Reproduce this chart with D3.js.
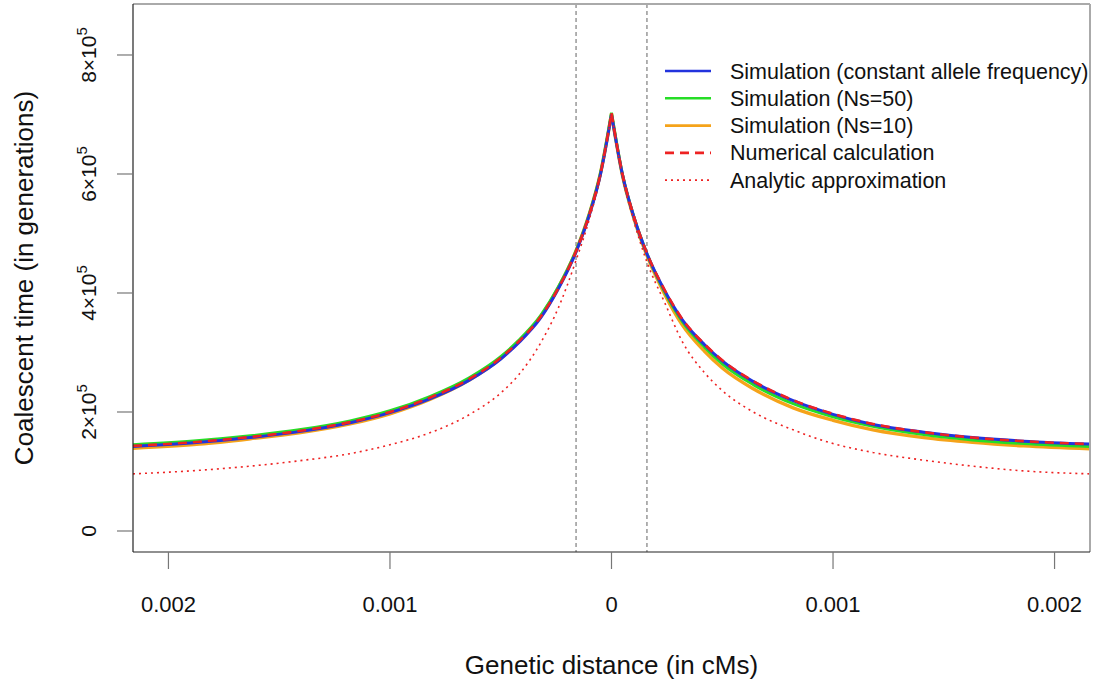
<!DOCTYPE html>
<html lang="en">
<head>
    <meta charset="UTF-8">
    <title>Coalescent time</title>
    <script src="https://cdn.jsdelivr.net/npm/d3@7"></script>
    <style>
        body { margin: 0; background: #fff; }
        text { font-family: "Liberation Sans", Arial, sans-serif; fill: #111; }
    </style>
</head>
<body>
<div id="chart"></div>
<script>
    const width = 1099;
    const height = 687;

    // genetic distance (cM), negative = left of the selected site
    const distLeft = [-0.00216, -0.00186, -0.00163, -0.00141, -0.00118, -0.001, -0.00082, -0.00064,
        -0.0005, -0.00042, -0.00032, -0.00024, -0.00016, -0.0001, -0.00005, 0];
    const distRight = [0, 0.00005, 0.0001, 0.00016, 0.00024, 0.00032, 0.00042, 0.0005,
        0.00064, 0.00082, 0.001, 0.00118, 0.00141, 0.00163, 0.00186, 0.00216];

    // coalescent times, in thousands of generations
    const simConstLeft = [142, 149, 157, 167, 182, 199, 222, 254, 289, 316, 358, 407, 469, 531, 599, 700];
    const simConstRight = [700, 598, 529, 466, 404, 355, 313, 286, 251, 219, 196, 179, 166, 157, 151, 146];
    const simNs50Left = [145, 152, 160, 170, 185, 202, 226, 258, 293, 320, 362, 410, 471, 533, 601, 703];
    const simNs50Right = [703, 598, 529, 466, 402, 352, 309, 281, 246, 214, 192, 176, 162, 153, 147, 142];
    const simNs10Left = [139, 146, 155, 165, 180, 197, 221, 254, 290, 318, 360, 409, 471, 533, 601, 701];
    const simNs10Right = [701, 597, 527, 463, 398, 346, 302, 274, 239, 207, 186, 170, 157, 149, 143, 138];
    const numericLeft = [143, 150, 158, 168, 183, 200, 224, 256, 291, 318, 360, 408, 470, 532, 600, 702];
    const numericRight = [702, 599, 530, 467, 405, 356, 314, 287, 252, 220, 197, 180, 166, 157, 151, 146];
    const analyticLeft = [96, 102, 109, 118, 130, 145, 165, 196, 232, 262, 316, 375, 455, 524, 596, 702];
    const analyticRight = [702, 594, 522, 452, 384, 318, 266, 236, 200, 170, 147, 132, 119, 109, 101, 96];

    const xTicks = [-0.002, -0.001, 0, 0.001, 0.002];
    const xTickLabels = ["0.002", "0.001", "0", "0.001", "0.002"];
    const yTicks = [0, 200000, 400000, 600000, 800000];
    const yTickMantissa = ["0", "2", "4", "6", "8"];
    const cutoffs = [-0.00016, 0.00016];

    const legendLabels = ["Simulation (constant allele frequency)", "Simulation (Ns=50)",
        "Simulation (Ns=10)", "Numerical calculation", "Analytic approximation"];

    const margin = {top: 4, right: 9, bottom: 135, left: 133};

    const svg = d3.select("#chart")
        .append("svg")
        .attr("width", width)
        .attr("height", height);

    const x = d3.scaleLinear()
        .domain([-0.00216, 0.00216])
        .range([margin.left, width - margin.right]);

    const y = d3.scaleLinear()
        .domain([-35300, 885700])
        .range([height - margin.bottom, margin.top]);

    const series = [
        {left: simNs10Left, right: simNs10Right, color: "#f5a31a", width: 3.4, dash: null},
        {left: simNs50Left, right: simNs50Right, color: "#26dd26", width: 3, dash: null},
        {left: simConstLeft, right: simConstRight, color: "#2233dd", width: 3, dash: null},
        {left: numericLeft, right: numericRight, color: "#ee2222", width: 2.6, dash: "9,6"},
        {left: analyticLeft, right: analyticRight, color: "#ee2222", width: 1.6, dash: "2,4"}
    ];

    const line = d3.line()
        .x(function (d) { return x(d[0]); })
        .y(function (d) { return y(d[1] * 1000); })
        .curve(d3.curveMonotoneX);

    const plot = svg.append("g");

    // cutoff lines
    plot.selectAll("line.cut").data(cutoffs).enter()
        .append("line")
        .attr("class", "cut")
        .attr("x1", function (d) { return x(d); })
        .attr("x2", function (d) { return x(d); })
        .attr("y1", margin.top)
        .attr("y2", height - margin.bottom)
        .attr("stroke", "#888")
        .attr("stroke-width", 1.3)
        .attr("stroke-dasharray", "4,3");

    series.forEach(function (s) {
        [[distLeft, s.left], [distRight, s.right]].forEach(function (half) {
            const pts = half[0].map(function (d, i) { return [d, half[1][i]]; });
            plot.append("path")
                .datum(pts)
                .attr("fill", "none")
                .attr("stroke", s.color)
                .attr("stroke-width", s.width)
                .attr("stroke-dasharray", s.dash)
                .attr("d", line);
        });
    });

    // box
    const x0 = margin.left, x1 = width - margin.right;
    const y0 = margin.top, y1 = height - margin.bottom;
    svg.append("line").attr("x1", x0).attr("x2", x1).attr("y1", y0).attr("y2", y0)
        .attr("stroke", "#aaa").attr("stroke-width", 2);
    svg.append("line").attr("x1", x1).attr("x2", x1).attr("y1", y0).attr("y2", y1)
        .attr("stroke", "#aaa").attr("stroke-width", 2);
    svg.append("line").attr("x1", x0).attr("x2", x1).attr("y1", y1).attr("y2", y1)
        .attr("stroke", "#222").attr("stroke-width", 1.2);
    svg.append("line").attr("x1", x0).attr("x2", x0).attr("y1", y0).attr("y2", y1)
        .attr("stroke", "#222").attr("stroke-width", 1.2);

    // x axis
    const xAxis = svg.append("g");
    xAxis.selectAll("line").data(xTicks).enter()
        .append("line")
        .attr("x1", function (d) { return x(d); })
        .attr("x2", function (d) { return x(d); })
        .attr("y1", y1)
        .attr("y2", y1 + 17)
        .attr("stroke", "#777")
        .attr("stroke-width", 1.2);
    xAxis.selectAll("text").data(xTicks).enter()
        .append("text")
        .attr("x", function (d) { return x(d); })
        .attr("y", 612)
        .attr("text-anchor", "middle")
        .attr("font-size", 22)
        .text(function (d, i) { return xTickLabels[i]; });

    // y axis
    const yAxis = svg.append("g");
    yAxis.selectAll("line").data(yTicks).enter()
        .append("line")
        .attr("x1", x0 - 16)
        .attr("x2", x0)
        .attr("y1", function (d) { return y(d); })
        .attr("y2", function (d) { return y(d); })
        .attr("stroke", "#777")
        .attr("stroke-width", 1.2);
    const yLab = yAxis.selectAll("text").data(yTicks).enter()
        .append("text")
        .attr("transform", function (d) { return "translate(96," + y(d) + ") rotate(-90)"; })
        .attr("text-anchor", "middle")
        .attr("font-size", 21);
    yLab.each(function (d, i) {
        const t = d3.select(this);
        if (d === 0) {
            t.text(yTickMantissa[i]);
        } else {
            t.append("tspan").text(yTickMantissa[i] + "\u00d710");
            t.append("tspan").attr("dy", -9).attr("font-size", 15).text("5");
        }
    });

    // axis titles
    svg.append("text")
        .attr("x", (x0 + x1) / 2)
        .attr("y", 674)
        .attr("text-anchor", "middle")
        .attr("font-size", 26)
        .text("Genetic distance (in cMs)");
    svg.append("text")
        .attr("transform", "translate(33," + ((y0 + y1) / 2) + ") rotate(-90)")
        .attr("text-anchor", "middle")
        .attr("font-size", 26)
        .text("Coalescent time (in generations)");

    // legend
    const legendColors = ["#2233dd", "#26dd26", "#f5a31a", "#ee2222", "#ee2222"];
    const legendDash = [null, null, null, "9,6", "2,4"];
    const legendWidth = [2.6, 2.6, 2.6, 2.6, 1.8];
    const legend = svg.append("g");
    legendLabels.forEach(function (label, i) {
        const ly = 71 + i * 27.3;
        legend.append("line")
            .attr("x1", 665).attr("x2", 711)
            .attr("y1", ly).attr("y2", ly)
            .attr("stroke", legendColors[i])
            .attr("stroke-width", legendWidth[i])
            .attr("stroke-dasharray", legendDash[i]);
        legend.append("text")
            .attr("x", 730)
            .attr("y", ly + 7.5)
            .attr("font-size", 21.5)
            .text(label);
    });
</script>
</body>
</html>
